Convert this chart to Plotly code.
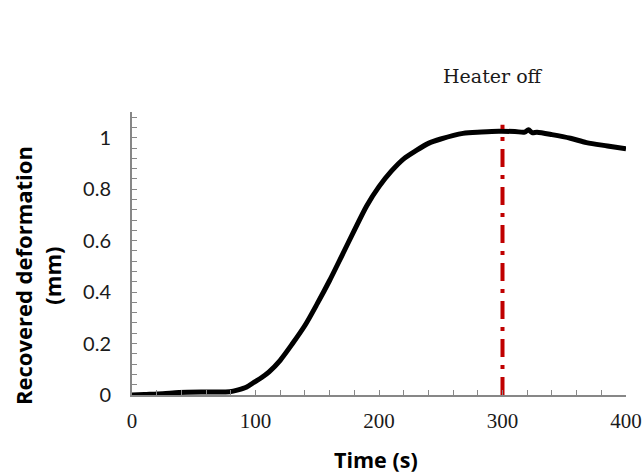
import plotly.graph_objects as go

# Data
time_s = [0, 10, 25, 38, 60, 79, 86, 92.5, 99, 105, 111, 120, 130, 140, 150, 160, 170, 180, 190, 200,
          210, 220, 230, 240, 250, 268, 283, 297, 310, 318, 321, 324, 328, 340, 355, 368, 385, 400]
deformation = [0, 0.002, 0.005, 0.01, 0.012, 0.013, 0.02, 0.03, 0.05, 0.068, 0.09, 0.135, 0.2, 0.27,
               0.355, 0.445, 0.542, 0.64, 0.735, 0.81, 0.87, 0.918, 0.95, 0.978, 0.995, 1.017, 1.022,
               1.025, 1.024, 1.022, 1.031, 1.02, 1.021, 1.012, 0.998, 0.981, 0.968, 0.957]

heater_off_time = 300
heater_line_y = [0, 1.05]

x_tick_vals = [0, 100, 200, 300, 400]
y_tick_vals = [0, 0.2, 0.4, 0.6, 0.8, 1]
y_tick_text = ["0", "0.2", "0.4", "0.6", "0.8", "1"]

W, H = 644, 474
l, r, t, b = 132, 18, 112, 79
pw, ph = W - l - r, H - t - b


def px(x_screen, y_screen):
    """screen pixel -> paper coordinates"""
    return (x_screen - l) / pw, (H - b - y_screen) / ph


fig = go.Figure()
fig.add_trace(go.Scatter(x=time_s, y=deformation, mode="lines",
                         line=dict(color="black", width=5, shape="spline", smoothing=0.8),
                         showlegend=False, hoverinfo="skip"))
fig.add_trace(go.Scatter(x=[heater_off_time, heater_off_time], y=heater_line_y, mode="lines",
                         line=dict(color="#C00000", width=4, dash="18px,8px,4px,8px"),
                         showlegend=False, hoverinfo="skip"))

axis_grey = "#878787"
hx, hy = px(493, 76)
tx, ty = px(376, 459)
yx, yy = px(37, 276)
fig.update_layout(
    width=W, height=H,
    margin=dict(l=l, r=r, t=t, b=b, autoexpand=False),
    paper_bgcolor="white", plot_bgcolor="white",
    xaxis=dict(range=[0, 400], tickvals=x_tick_vals, ticks="inside", ticklen=5, tickcolor=axis_grey,
               showline=True, linecolor=axis_grey, linewidth=2, showgrid=False, zeroline=False,
               ticklabelstandoff=6,
               tickfont=dict(family="Liberation Serif", size=21, color="#1a1a1a"),
               minor=dict(dtick=20, ticks="inside", ticklen=5, tickcolor=axis_grey, showgrid=False)),
    yaxis=dict(range=[0, 1.1], tickvals=y_tick_vals, ticktext=y_tick_text, ticks="inside", ticklen=5,
               tickcolor=axis_grey, showline=True, linecolor=axis_grey, linewidth=2, showgrid=False,
               zeroline=False, ticklabelstandoff=15,
               tickfont=dict(family="Lato", size=20, color="#1a1a1a"),
               minor=dict(dtick=0.04, ticks="inside", ticklen=5, tickcolor=axis_grey, showgrid=False)),
    annotations=[
        dict(text="Heater off", x=hx, y=hy, xref="paper", yref="paper", showarrow=False,
             xanchor="center", yanchor="middle",
             font=dict(family="DejaVu Serif", size=19, color="#1a1a1a")),
        dict(text="<b>Time (s)</b>", x=tx, y=ty, xref="paper", yref="paper", showarrow=False,
             xanchor="center", yanchor="middle", borderpad=0,
             font=dict(family="Open Sans", size=21.5, color="black")),
        dict(text="<b>Recovered deformation<br>(mm)</b>", x=yx, y=yy, xref="paper", yref="paper",
             textangle=-90, showarrow=False, xanchor="center", yanchor="middle",
             font=dict(family="Open Sans", size=22, color="black")),
    ],
)

fig.write_html("out.html", config={"displayModeBar": False},
               post_script="document.body.style.margin='0';document.body.style.overflow='hidden';")
